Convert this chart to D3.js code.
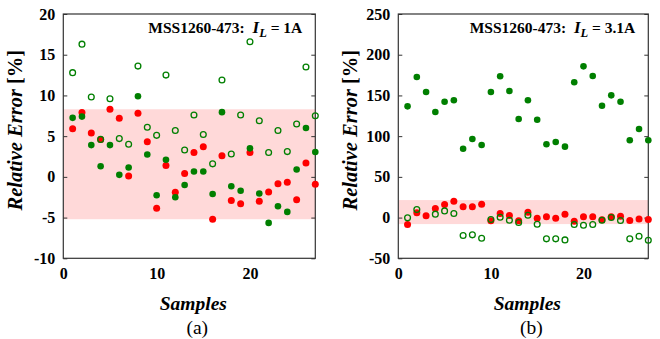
<!DOCTYPE html>
<html><head><meta charset="utf-8">
<script src="https://cdn.jsdelivr.net/npm/d3@7"></script>
<style>
html,body{margin:0;padding:0;background:#fff;}
svg text{font-family:"Times New Roman",Tinos,"Liberation Serif",serif;}
</style>
</head><body>
<svg id="chart" width="660" height="339"></svg>
<script>
const samples = d3.range(1, 28);

// Panel (a): I_L = 1A
const redA = [5.9,7.9,5.4,4.6,8.3,7.2,0.1,7.8,4.3,-3.85,1.4,-1.9,0.4,3.0,3.7,-5.2,2.6,-2.9,-3.3,3.0,-3.0,-1.85,-0.85,-0.65,-2.8,1.7,-0.9];
const greenFilledA = [7.25,7.4,3.9,1.3,3.9,0.25,1.15,9.9,2.75,-2.25,2.1,-2.5,-1.0,0.65,0.65,-2.1,7.95,-1.15,-1.7,3.5,-2.05,-5.65,-3.6,-4.3,0.9,6.0,3.05];
const greenOpenA = [12.8,16.3,9.8,4.6,9.6,4.7,4.0,13.6,6.1,5.1,12.5,5.7,3.3,7.6,5.2,1.6,11.9,2.8,7.6,16.6,6.9,3.0,5.7,3.1,6.5,13.5,7.5];
const bandA = [-5.2, 8.3];
const yTicksA = [-10,-5,0,5,10,15,20];

// Panel (b): I_L = 3.1A
const redB = [-8.5,5.8,2.1,11.1,16,20.1,13.2,13.2,16.4,-4,5,2.5,-4,6.6,-0.8,0.9,-0.8,4.2,-4.4,0.9,0.9,-2.8,0.9,1.7,-3.6,-1.6,-2.4];
const greenFilledB = [136.6,172.6,154.2,129.7,142.3,144,84.6,96.5,89.1,154.2,173.5,155.4,121.1,144,120.2,90,92.8,87.1,166.1,185.7,173.9,137.4,150.1,142.3,94.9,108.8,94.9];
const greenOpenB = [-0.3,9.9,null,4.2,8.2,5,-22,-21.2,-25.3,-2.4,0.5,-3.2,-6.1,2.9,-8.1,-26.1,-26.1,-27.4,-8.5,-9.4,-8.5,-3.2,0.1,-3.6,-26.1,-22.9,-27.8];
const bandB = [-8, 21.5];
const yTicksB = [-50,0,50,100,150,200,250];

const xTicks = [0,10,20];
const xDomain = [0,27];

const svg = d3.select("#chart");
const FONT = '"Times New Roman", Tinos, "Liberation Serif", serif';

function panel(cfg){
  const g = svg.append("g");
  const x = d3.scaleLinear().domain(xDomain).range([cfg.x0, cfg.x1]);
  const y = d3.scaleLinear().domain(cfg.yDomain).range([cfg.y1, cfg.y0]);

  // band
  g.append("rect")
    .attr("x", cfg.x0).attr("width", cfg.x1 - cfg.x0)
    .attr("y", y(cfg.band[1])).attr("height", y(cfg.band[0]) - y(cfg.band[1]))
    .attr("fill", "#ffd9d9");

  // axes
  const yl = g.append("g").attr("transform", `translate(${cfg.x0},0)`)
    .call(d3.axisLeft(y).tickValues(cfg.yTicks).tickSize(-4).tickPadding(8).tickFormat(d3.format("d")));
  const yr = g.append("g").attr("transform", `translate(${cfg.x1},0)`)
    .call(d3.axisRight(y).tickValues(cfg.yTicks).tickSize(-4).tickFormat(""));
  const xb = g.append("g").attr("transform", `translate(0,${cfg.y1})`)
    .call(d3.axisBottom(x).tickValues(xTicks).tickSize(0).tickPadding(9).tickFormat(d3.format("d")));
  [yl, yr, xb].forEach(a => {
    a.attr("font-family", null).attr("font-size", null);
    a.select(".domain").remove();
    a.selectAll("line").attr("stroke", "#333").attr("stroke-width", 1);
    a.selectAll("text").attr("font-size", 16).attr("font-weight", "bold").attr("fill", "#000")
      .style("font-family", FONT);
  });
  yl.selectAll("text").text(d => d < 0 ? "-" + Math.abs(d) : d);

  // frame
  g.append("rect").attr("x", cfg.x0).attr("y", cfg.y0)
    .attr("width", cfg.x1 - cfg.x0).attr("height", cfg.y1 - cfg.y0)
    .attr("fill", "none").attr("stroke", "#333").attr("stroke-width", 1.2);

  const pts = (arr) => samples.map((s, i) => ({s, v: arr[i]})).filter(d => d.v !== null);

  g.append("g").selectAll("circle").data(pts(cfg.red)).join("circle")
    .attr("cx", d => x(d.s)).attr("cy", d => y(d.v)).attr("r", 3.5).attr("fill", "#ff0000");
  g.append("g").selectAll("circle").data(pts(cfg.gf)).join("circle")
    .attr("cx", d => x(d.s)).attr("cy", d => y(d.v)).attr("r", 3.3).attr("fill", "#007f00");
  g.append("g").selectAll("circle").data(pts(cfg.go)).join("circle")
    .attr("cx", d => x(d.s)).attr("cy", d => y(d.v)).attr("r", 2.9)
    .attr("fill", "none").attr("stroke", "#007f00").attr("stroke-width", 1.3);

  // title
  const t = g.append("text").attr("x", cfg.x1 - 13).attr("y", cfg.y0 + 19)
    .attr("text-anchor", "end").attr("font-size", 15.5).attr("font-weight", "bold")
    .style("font-family", FONT);
  t.append("tspan").text("MSS1260-473:\u00a0\u00a0");
  t.append("tspan").attr("font-style", "italic").attr("font-size", 17).text("I");
  t.append("tspan").attr("font-style", "italic").attr("font-size", 12.5).attr("dy", 4).text("L");
  t.append("tspan").attr("dy", -4).text(" = " + cfg.cur);

  // y label
  const yt = g.append("text")
    .attr("transform", `translate(${cfg.x0 - 41},${(cfg.y0 + cfg.y1)/2 - 6}) rotate(-90)`)
    .attr("text-anchor", "middle").attr("font-size", 20.5).attr("font-weight", "bold")
    .style("font-family", FONT);
  yt.append("tspan").attr("font-style", "italic").text("Relative Error ");
  yt.append("tspan").text("[%]");

  // x label
  g.append("text").attr("x", (cfg.x0 + cfg.x1)/2 + 4).attr("y", cfg.y1 + 52)
    .attr("text-anchor", "middle").attr("font-size", 19.5).attr("font-weight", "bold")
    .attr("font-style", "italic").style("font-family", FONT).text("Samples");

  // panel label
  g.append("text").attr("x", (cfg.x0 + cfg.x1)/2 + 8).attr("y", cfg.y1 + 76)
    .attr("text-anchor", "middle").attr("font-size", 19.5).style("font-family", FONT).text(cfg.label);
}

panel({x0: 63.3, x1: 315.3, y0: 14, y1: 258.3, yDomain: [-10, 20], yTicks: yTicksA,
  band: bandA, red: redA, gf: greenFilledA, go: greenOpenA, cur: "1A", label: "(a)"});
panel({x0: 398.3, x1: 648.3, y0: 14, y1: 258.3, yDomain: [-50, 250], yTicks: yTicksB,
  band: bandB, red: redB, gf: greenFilledB, go: greenOpenB, cur: "3.1A", label: "(b)"});
</script>
</body></html>
